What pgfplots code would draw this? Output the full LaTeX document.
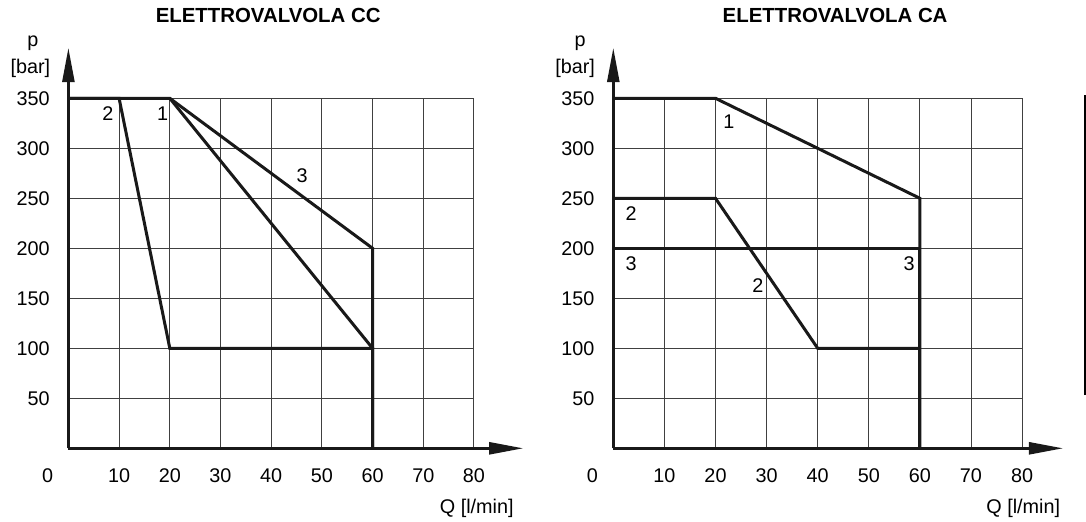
\documentclass[border=0pt]{standalone}
\usepackage{fontspec}
\setmainfont{Liberation Sans}
\usepackage{pgfplots}
\pgfplotsset{compat=1.18}
\usetikzlibrary{arrows.meta}

% 1 px of the reference = 0.5pt
\newcommand{\lbl}{\fontsize{9.9}{11}\selectfont}
\pgfplotsset{
  valve/.style={
    y=0.5pt,
    xmin=0, xmax=80, ymin=0, ymax=350,
    xtick={10,20,...,80}, ytick={50,100,...,350},
    grid=major,
    major grid style={line width=0.5pt, black!75},
    axis line style={draw=none},
    major tick length=0pt,
    tick label style={font=\lbl},
    xticklabel style={anchor=base, yshift=-17.2pt},
    yticklabel style={anchor=east, inner sep=0pt, xshift=-9.2pt},
    /pgf/number format/assume math mode=true,
    clip=false,
  },
  curve/.style={line width=1.5pt, black!90, mark=none},
}
\tikzset{
  axarrow/.style={line width=1.2pt, black!90, -{Triangle[length=17pt,width=6pt]}},
}

\begin{document}
\begin{tikzpicture}
% ---------- ELETTROVALVOLA CC ----------
\begin{axis}[valve, x=2.535pt]
  \addplot[curve] coordinates {(0,350) (10,350) (20,100) (60,100) (60,0)};
  \addplot[curve] coordinates {(0,350) (20,350) (60,100)};
  \addplot[curve] coordinates {(20,350) (60,200) (60,0)};
  \draw[axarrow] (axis cs:0,0) -- (axis cs:89.7,0);
  \draw[axarrow] (axis cs:0,0) -- (axis cs:0,400.3);
  \node[font=\lbl] at (axis cs:7.8,335) {2};
  \node[font=\lbl] at (axis cs:18.6,335) {1};
  \node[font=\lbl] at (axis cs:46.1,272.5) {3};
  \node[font=\lbl, anchor=base, xshift=-10.35pt, yshift=-17.2pt] at (axis cs:0,0) {0};
  \node[font=\lbl, anchor=base, xshift=-17.7pt, yshift=26pt] at (axis cs:0,350) {p};
  \node[font=\lbl, anchor=base, xshift=-19pt, yshift=12.5pt] at (axis cs:0,350) {[bar]};
  \node[font=\lbl, inner sep=0pt, anchor=base east, xshift=20pt, yshift=-32.6pt] at (axis cs:80,0) {Q [l/min]};
  \node[font=\fontsize{10.2}{12}\selectfont\bfseries, yshift=41.5pt] at (axis cs:39.4,350) {ELETTROVALVOLA CC};
\end{axis}
% ---------- ELETTROVALVOLA CA ----------
\begin{axis}[valve, x=2.555pt, at={(272.45pt,0)}]
  \addplot[curve] coordinates {(0,350) (20,350) (60,250) (60,0)};
  \addplot[curve] coordinates {(0,250) (20,250) (40,100) (60,100)};
  \addplot[curve] coordinates {(0,200) (60,200) (60,0)};
  \draw[axarrow] (axis cs:0,0) -- (axis cs:88,0);
  \draw[axarrow] (axis cs:0,0) -- (axis cs:0,400.3);
  \draw[line width=0.75pt, black] (axis cs:92.3,53.3) -- (axis cs:92.3,353.3);
  \node[font=\lbl] at (axis cs:22.6,326.6) {1};
  \node[font=\lbl] at (axis cs:3.5,235) {2};
  \node[font=\lbl] at (axis cs:3.5,184.6) {3};
  \node[font=\lbl] at (axis cs:57.9,184.6) {3};
  \node[font=\lbl] at (axis cs:28.3,162.8) {2};
  \node[font=\lbl, anchor=base, xshift=-10.5pt, yshift=-17.2pt] at (axis cs:0,0) {0};
  \node[font=\lbl, anchor=base, xshift=-16.6pt, yshift=26pt] at (axis cs:0,350) {p};
  \node[font=\lbl, anchor=base, xshift=-19.1pt, yshift=12.5pt] at (axis cs:0,350) {[bar]};
  \node[font=\lbl, inner sep=0pt, anchor=base east, xshift=19.2pt, yshift=-32.6pt] at (axis cs:80,0) {Q [l/min]};
  \node[font=\fontsize{10.2}{12}\selectfont\bfseries, yshift=41.5pt] at (axis cs:43.4,350) {ELETTROVALVOLA CA};
\end{axis}
\pgfresetboundingbox
\path (-34.2pt,-36.35pt) rectangle (508.8pt,224.15pt);
\end{tikzpicture}
\end{document}
